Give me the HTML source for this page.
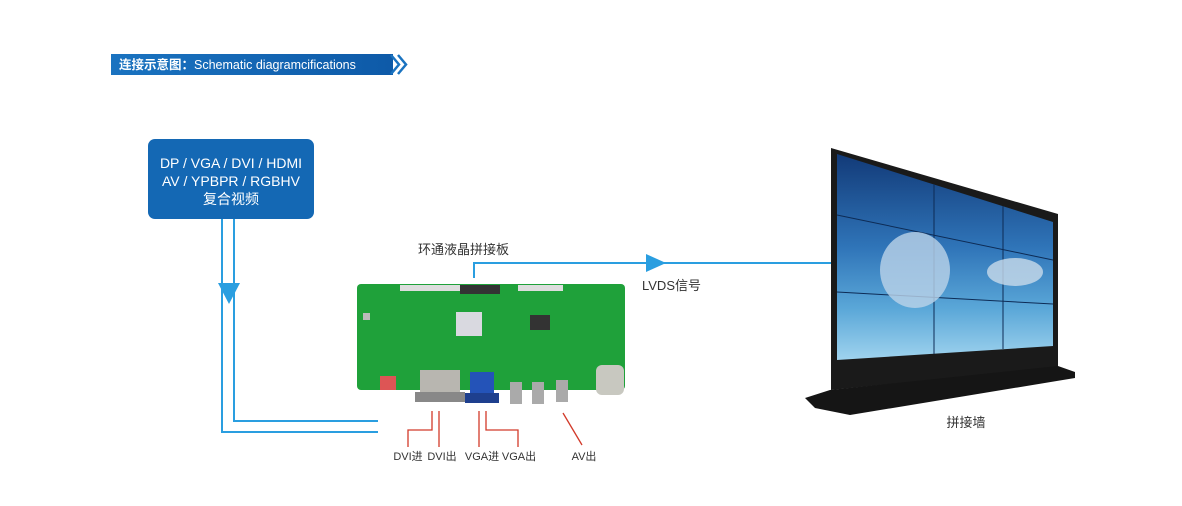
<!DOCTYPE html>
<html><head><meta charset="utf-8"><style>
body{margin:0;width:1182px;height:506px;background:#fff;overflow:hidden;font-family:"Liberation Sans","Noto Sans CJK SC",sans-serif}
</style></head><body>
<svg width="1182" height="506" viewBox="0 0 1182 506" xmlns="http://www.w3.org/2000/svg" style="position:absolute;left:0;top:0">
<defs>
<linearGradient id="hb" x1="0" x2="1"><stop offset="0" stop-color="#1a73c0"/><stop offset="1" stop-color="#0e5aa8"/></linearGradient>
<linearGradient id="sea" x1="0" y1="0" x2="0" y2="1"><stop offset="0" stop-color="#123a78"/><stop offset="0.45" stop-color="#2f74b8"/><stop offset="0.75" stop-color="#5aa7d8"/><stop offset="1" stop-color="#9fd3ee"/></linearGradient>
</defs>
<!-- header -->
<rect x="111" y="54" width="282" height="21" fill="url(#hb)"/>
<text x="119" y="69" font-size="12.5" fill="#fff" font-weight="bold" font-family="Liberation Sans,Noto Sans CJK SC,sans-serif">连接示意图：<tspan font-weight="normal">Schematic diagramcifications</tspan></text>
<polyline points="391,55 399,64.5 391,74" fill="none" stroke="#1a73c0" stroke-width="2.5"/>
<polyline points="398,55 406,64.5 398,74" fill="none" stroke="#1a73c0" stroke-width="2.5"/>
<!-- source box -->
<rect x="148" y="139" width="166" height="80" rx="7" fill="#1468b4"/>
<text x="231" y="168" font-size="14" fill="#fff" text-anchor="middle">DP / VGA / DVI / HDMI</text>
<text x="231" y="186" font-size="14" fill="#fff" text-anchor="middle">AV / YPBPR / RGBHV</text>
<text x="231" y="204" font-size="14" fill="#fff" text-anchor="middle">复合视频</text>
<!-- lines -->
<g stroke="#2a9ee0" stroke-width="2" fill="none">
<polyline points="222,219 222,432 378,432"/>
<polyline points="234,219 234,421 378,421"/>
<polyline points="474,278 474,263 832,263"/>
</g>
<polygon points="218,283 240,283 229,304" fill="#2a9ee0"/>
<polygon points="646,254 666,263 646,272" fill="#2a9ee0"/>
<text x="418" y="254" font-size="13" fill="#333">环通液晶拼接板</text>
<text x="642" y="290" font-size="13" fill="#333">LVDS信号</text>
<!-- board -->
<rect x="357" y="284" width="268" height="106" rx="4" fill="#1fa13a"/>
<rect x="400" y="285" width="70" height="6" fill="#ddd"/><rect x="460" y="285" width="40" height="9" fill="#333"/>
<rect x="518" y="285" width="45" height="6" fill="#ddd"/>
<rect x="456" y="312" width="26" height="24" fill="#d9d9e0"/>
<rect x="420" y="370" width="40" height="30" fill="#b8b6b0"/><rect x="415" y="392" width="50" height="10" fill="#888"/>
<rect x="470" y="372" width="24" height="26" fill="#2453b8"/><rect x="465" y="393" width="34" height="10" fill="#1e3f8e"/>
<rect x="380" y="376" width="16" height="14" fill="#d55"/>
<rect x="510" y="382" width="12" height="22" fill="#aaa"/><rect x="532" y="382" width="12" height="22" fill="#aaa"/><rect x="556" y="380" width="12" height="22" fill="#aaa"/>
<rect x="596" y="365" width="28" height="30" rx="6" fill="#c8c8c0"/>
<rect x="363" y="313" width="7" height="7" fill="#bbb"/><rect x="530" y="315" width="20" height="15" fill="#333"/>
<!-- callouts -->
<g stroke="#d23a2a" stroke-width="1.3" fill="none">
<polyline points="432,411 432,430 408,430 408,447"/>
<polyline points="439,411 439,447"/>
<polyline points="479,411 479,447"/>
<polyline points="486,411 486,430 518,430 518,447"/>
<polyline points="563,413 582,445"/>
</g>
<g font-size="11" fill="#333" text-anchor="middle">
<text x="408" y="460">DVI进</text><text x="442" y="460">DVI出</text>
<text x="482" y="460">VGA进</text><text x="519" y="460">VGA出</text><text x="584" y="460">AV出</text>
</g>
<!-- video wall -->
<polygon points="831,148 1058,214 1058,367 831,390" fill="#1a1a1a"/>
<polygon points="837,154 1053,222 1053,346 837,360" fill="url(#sea)"/>
<g stroke="#0d2b55" stroke-width="1">
<line x1="934" y1="184" x2="934" y2="354"/><line x1="1003" y1="206" x2="1003" y2="349"/>
<line x1="837" y1="215" x2="1053" y2="260"/><line x1="837" y1="292" x2="1053" y2="304"/>
</g>
<ellipse cx="915" cy="270" rx="35" ry="38" fill="#bcd3e8" opacity="0.8"/>
<ellipse cx="1015" cy="272" rx="28" ry="14" fill="#c9dbea" opacity="0.8"/>
<polygon points="805,398 830,390 1058,366 1075,372 1075,378 850,415 815,408" fill="#151515"/>
<text x="966" y="427" font-size="13" fill="#333" text-anchor="middle">拼接墙</text>
</svg>
</body></html>
